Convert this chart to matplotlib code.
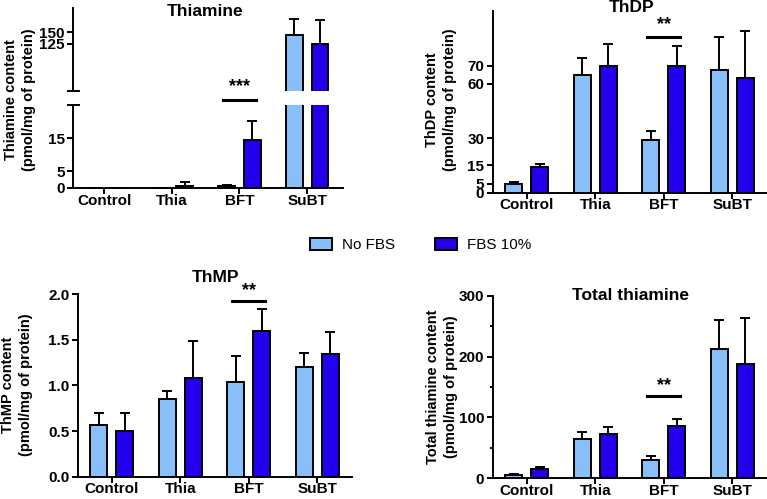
import matplotlib
matplotlib.use("Agg")
import matplotlib.pyplot as plt
import numpy as np
from matplotlib.patches import Patch

plt.rcParams['font.family'] = ['Liberation Sans', 'DejaVu Sans']
plt.rcParams['font.weight'] = 'bold'

categories = ["Control", "Thia", "BFT", "SuBT"]
series = ["No FBS", "FBS 10%"]
colors = ["#88BFF8", "#2200EE"]

thiamine_nofbs = [0.0, 0.0, 0.5, 144]
thiamine_nofbs_err = [0.0, 0.0, 0.4, 34]
thiamine_fbs = [0.0, 0.7, 14.6, 124]
thiamine_fbs_err = [0.0, 1.2, 5.6, 53]

thdp_nofbs = [4.8, 64.9, 29.2, 67.5]
thdp_nofbs_err = [1.1, 9.0, 5.0, 18.0]
thdp_fbs = [14.3, 70.0, 69.8, 63.2]
thdp_fbs_err = [1.7, 12.0, 10.7, 25.8]

thmp_nofbs = [0.567, 0.85, 1.04, 1.20]
thmp_nofbs_err = [0.133, 0.09, 0.28, 0.16]
thmp_fbs = [0.50, 1.085, 1.60, 1.34]
thmp_fbs_err = [0.20, 0.405, 0.24, 0.25]

total_nofbs = [5.4, 65.0, 30.0, 212.4]
total_nofbs_err = [2.0, 10.6, 6.6, 48.2]
total_fbs = [14.8, 72.3, 86.0, 188.3]
total_fbs_err = [3.2, 12.7, 12.0, 74.5]

W, H = 767, 499
fig = plt.figure(figsize=(W / 100, H / 100), dpi=100)


def add_ax(x0, y0, x1, y1):
    ax = fig.add_axes([x0 / W, 1 - y1 / H, (x1 - x0) / W, (y1 - y0) / H])
    ax.patch.set_visible(False)
    return ax


x = np.arange(len(categories))
BW = 0.25
OFF = 0.19
LW = 1.4
YTS = 11
XTS = 11
LABS = 10.5
TITS = 12.5


def style(ax, show_x=True):
    for s in ['top', 'right']:
        ax.spines[s].set_visible(False)
    for s in ['left', 'bottom']:
        ax.spines[s].set_linewidth(LW)
    ax.tick_params(axis='y', width=LW, length=4, labelsize=YTS, pad=2)
    ax.tick_params(axis='x', width=LW, length=4, labelsize=XTS, pad=0)
    ax.set_xticks(x)
    if show_x:
        ax.set_xticklabels(categories, fontsize=XTS, fontweight='bold')
    for lab in ax.get_yticklabels():
        lab.set_fontweight('bold')


def bars(ax, v1, e1, v2, e2, ymin=None):
    for vals, errs, col, sgn in [(v1, e1, colors[0], -1), (v2, e2, colors[1], 1)]:
        vals = np.asarray(vals, dtype=float)
        errs = np.asarray(errs, dtype=float)
        ax.bar(x + sgn * OFF, vals, BW, color=col, edgecolor='black', linewidth=LW, zorder=3)
        keep = np.ones(len(vals), bool) if ymin is None else (vals + errs > ymin)
        ax.errorbar((x + sgn * OFF)[keep], vals[keep],
                    yerr=[np.zeros(keep.sum()), errs[keep]], fmt='none',
                    ecolor='black', elinewidth=LW, capsize=3.5, capthick=LW, zorder=2)


def sig(ax, xc, y, text, ytext):
    ax.plot([xc - OFF - 0.05, xc + OFF + 0.05], [y, y], color='black', lw=2.2,
            clip_on=False, zorder=5)
    ax.text(xc, ytext, text, ha='center', va='bottom', fontsize=13, fontweight='bold',
            zorder=5)


def ylabel(xpix, ypix, text):
    fig.text(xpix / W, 1 - ypix / H, text, rotation=90, ha='center', va='center',
             fontsize=LABS, fontweight='bold', linespacing=1.35)


# ---------- Panel 1: Thiamine (broken axis) ----------
axb = add_ax(73, 105, 343, 188)
axt = add_ax(73, 8, 343, 91)
TOP_MIN = 21
bars(axb, thiamine_nofbs, thiamine_nofbs_err, thiamine_fbs, thiamine_fbs_err)
bars(axt, thiamine_nofbs, thiamine_nofbs_err, thiamine_fbs, thiamine_fbs_err, ymin=TOP_MIN)
for ax in (axb, axt):
    ax.set_xlim(-0.46, 3.53)
axb.set_ylim(0, 25)
axb.set_yticks([0, 5, 15])
axt.set_ylim(TOP_MIN, 203)
axt.set_yticks([125, 150])
style(axb)
style(axt, show_x=False)
axt.spines['bottom'].set_visible(False)
axt.tick_params(axis='x', bottom=False, labelbottom=False)
for lab in axb.get_yticklabels() + axt.get_yticklabels():
    lab.set_fontweight('bold')
fig.add_artist(plt.Line2D([68 / W, 79 / W], [1 - 91 / H, 1 - 91 / H], color='black', lw=LW))
fig.add_artist(plt.Line2D([68 / W, 79 / W], [1 - 105 / H, 1 - 105 / H], color='black', lw=LW))
fig.text(205 / W, 1 - 12 / H, "Thiamine", ha='center', va='center',
         fontsize=TITS, fontweight='bold')
sig(axb, 2, 26.6, "***", 28.0)
ylabel(20, 100, "Thiamine content\n(pmol/mg of protein)")

# ---------- Panel 2: ThDP ----------
ax2 = add_ax(492.7, 11, 767, 192.7)
bars(ax2, thdp_nofbs, thdp_nofbs_err, thdp_fbs, thdp_fbs_err)
ax2.set_xlim(-0.5, 3.51)
ax2.set_ylim(0, 100)
ax2.set_yticks([0, 5, 15, 30, 60, 70])
style(ax2)
for lab in ax2.get_yticklabels():
    lab.set_fontweight('bold')
fig.text(632 / W, 1 - 8 / H, "ThDP", ha='center', va='center',
         fontsize=TITS, fontweight='bold')
sig(ax2, 2, 85.8, "**", 88.0)
ylabel(441, 100, "ThDP content\n(pmol/mg of protein)")

# ---------- Panel 3: ThMP ----------
ax3 = add_ax(77.7, 294.3, 352, 476.7)
bars(ax3, thmp_nofbs, thmp_nofbs_err, thmp_fbs, thmp_fbs_err)
ax3.set_xlim(-0.5, 3.51)
ax3.set_ylim(0, 2.0)
ax3.set_yticks([0, 0.5, 1.0, 1.5, 2.0])
ax3.set_yticklabels(["0.0", "0.5", "1.0", "1.5", "2.0"])
style(ax3)
for lab in ax3.get_yticklabels():
    lab.set_fontweight('bold')
fig.text(216 / W, 1 - 277 / H, "ThMP", ha='center', va='center',
         fontsize=TITS, fontweight='bold')
sig(ax3, 2, 1.93, "**", 1.95)
ylabel(17, 385, "ThMP content\n(pmol/mg of protein)")

# ---------- Panel 4: Total thiamine ----------
ax4 = add_ax(492.7, 295.7, 767, 478.3)
bars(ax4, total_nofbs, total_nofbs_err, total_fbs, total_fbs_err)
ax4.set_xlim(-0.5, 3.51)
ax4.set_ylim(0, 300)
ax4.set_yticks([0, 100, 200, 300])
ax4.set_yticks([50, 150, 250], minor=True)
style(ax4)
ax4.tick_params(axis='y', which='minor', width=LW, length=2.5)
for lab in ax4.get_yticklabels():
    lab.set_fontweight('bold')
fig.text(630 / W, 1 - 295 / H, "Total thiamine", ha='center', va='center',
         fontsize=TITS, fontweight='bold')
sig(ax4, 2, 135, "**", 139)
ylabel(442, 387, "Total thiamine content\n(pmol/mg of protein)")

# ---------- Legend ----------
handles = [Patch(facecolor=colors[0], edgecolor='black', linewidth=LW),
           Patch(facecolor=colors[1], edgecolor='black', linewidth=LW)]
fig.legend(handles, series, loc='center', bbox_to_anchor=(421 / W, 1 - 245 / H),
           ncol=2, frameon=False, handlelength=1.4, handleheight=0.8,
           columnspacing=2.6, handletextpad=0.7,
           prop={'family': ['Liberation Sans'], 'weight': 'normal', 'size': 11})

fig.savefig("out.png", dpi=100)
